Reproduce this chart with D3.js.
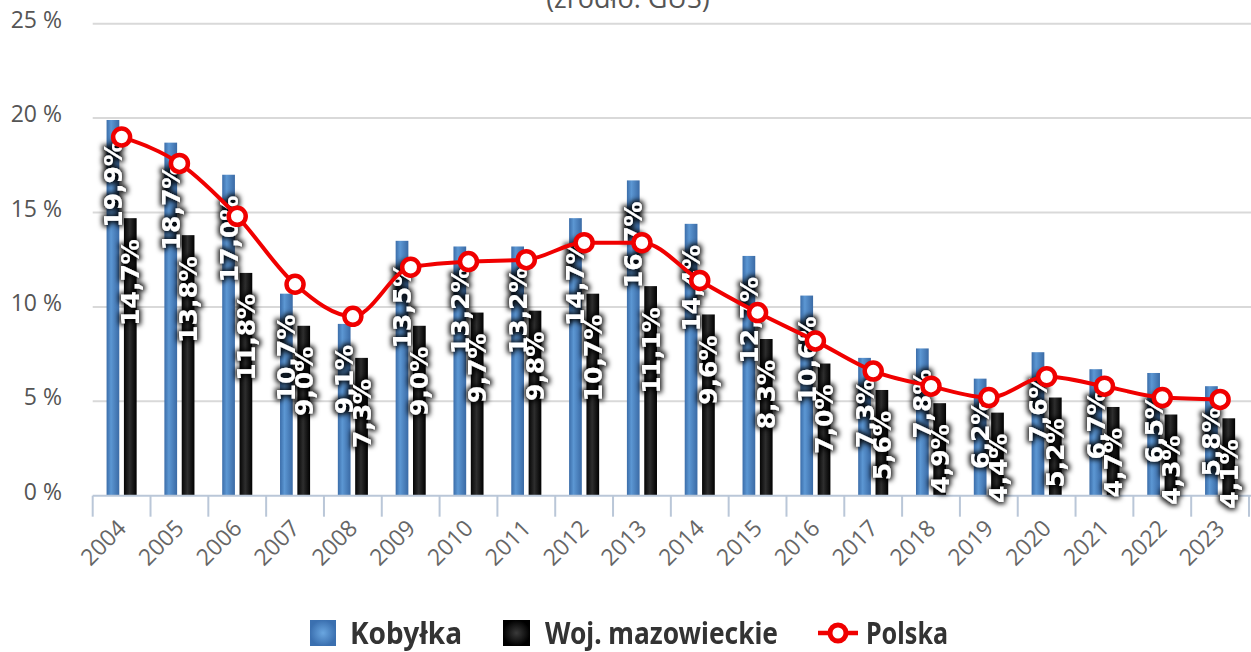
<!DOCTYPE html>
<html><head><meta charset="utf-8">
<script src="https://cdn.jsdelivr.net/npm/d3@7"></script>
<style>
html,body{margin:0;padding:0;background:#fff;}
svg{display:block;}
</style></head>
<body>
<svg id="chart" width="1251" height="652"></svg>
<script>
const years = ["2004","2005","2006","2007","2008","2009","2010","2011","2012","2013","2014","2015","2016","2017","2018","2019","2020","2021","2022","2023"];
const kobylka = [19.9,18.7,17.0,10.7,9.1,13.5,13.2,13.2,14.7,16.7,14.4,12.7,10.6,7.3,7.8,6.2,7.6,6.7,6.5,5.8];
const mazowieckie = [14.7,13.8,11.8,9.0,7.3,9.0,9.7,9.8,10.7,11.1,9.6,8.3,7.0,5.6,4.9,4.4,5.2,4.7,4.3,4.1];
const polska = [19.0,17.6,14.8,11.2,9.5,12.1,12.4,12.5,13.4,13.4,11.4,9.7,8.2,6.6,5.8,5.2,6.3,5.8,5.2,5.1];
const yTicks = [0,5,10,15,20,25];
const seriesNames = ["Kobyłka","Woj. mazowieckie","Polska"];
const subtitle = "(źródło: GUS)";

const svg = d3.select("#chart");
const defs = svg.append("defs");

const gBlue = defs.append("linearGradient").attr("id","gBlue").attr("x1","0").attr("x2","1").attr("y1","0").attr("y2","0");
gBlue.append("stop").attr("offset","0%").attr("stop-color","#3b6da9");
gBlue.append("stop").attr("offset","35%").attr("stop-color","#5c97d3");
gBlue.append("stop").attr("offset","100%").attr("stop-color","#3a6aa5");
const gBlack = defs.append("linearGradient").attr("id","gBlack").attr("x1","0").attr("x2","1").attr("y1","0").attr("y2","0");
gBlack.append("stop").attr("offset","0%").attr("stop-color","#050505");
gBlack.append("stop").attr("offset","45%").attr("stop-color","#2e2e2e");
gBlack.append("stop").attr("offset","100%").attr("stop-color","#000");
const rBlue = defs.append("radialGradient").attr("id","rBlue");
rBlue.append("stop").attr("offset","0%").attr("stop-color","#6aa6e0");
rBlue.append("stop").attr("offset","100%").attr("stop-color","#3b70b0");
const rBlack = defs.append("radialGradient").attr("id","rBlack");
rBlack.append("stop").attr("offset","0%").attr("stop-color","#3a3a3a");
rBlack.append("stop").attr("offset","100%").attr("stop-color","#000");

const glow = defs.append("filter").attr("id","glow").attr("x","-30%").attr("y","-30%").attr("width","160%").attr("height","160%");
glow.append("feMorphology").attr("in","SourceAlpha").attr("operator","dilate").attr("radius","1.8").attr("result","d");
glow.append("feGaussianBlur").attr("in","d").attr("stdDeviation","2.4").attr("result","b");
glow.append("feFlood").attr("flood-color","#000").attr("flood-opacity","0.9");
glow.append("feComposite").attr("in2","b").attr("operator","in").attr("result","s");
const fm = glow.append("feMerge");
fm.append("feMergeNode").attr("in","s");
fm.append("feMergeNode").attr("in","SourceGraphic");

const x = d3.scaleBand().domain(years).range([92.7, 1249]).padding(0);
const y = d3.scaleLinear().domain([0,25]).range([495.7, 23.7]);
const bw = x.bandwidth();
const barW = bw*0.22;
const gap = bw*0.08;

// subtitle (cut at the top edge, as in the reference)
svg.append("text").attr("x",628).attr("y",8).attr("text-anchor","middle")
  .attr("font-family","'Open Sans',sans-serif").attr("font-size",27).attr("fill","#555").text(subtitle);

// gridlines
svg.append("g").selectAll("line").data(yTicks.filter(d=>d>0)).join("line")
  .attr("x1",92.7).attr("x2",1251).attr("y1",d=>y(d)).attr("y2",d=>y(d))
  .attr("stroke","#d9d9d9").attr("stroke-width",2);

// y labels
svg.append("g").selectAll("text").data(yTicks).join("text")
  .attr("x",62).attr("y",d=>y(d)+4).attr("text-anchor","end")
  .attr("font-family","'Open Sans',sans-serif").attr("font-size",23).attr("fill","#555")
  .text(d=>d+" %");

// bars
const gB = svg.append("g");
gB.selectAll("rect.k").data(years).join("rect").attr("class","k")
  .attr("x",(d)=>x(d)+bw/2-gap/2-barW).attr("width",barW)
  .attr("y",(d,i)=>y(kobylka[i])).attr("height",(d,i)=>y(0)-y(kobylka[i]))
  .attr("fill","url(#gBlue)");
gB.selectAll("rect.m").data(years).join("rect").attr("class","m")
  .attr("x",(d)=>x(d)+bw/2+gap/2).attr("width",barW)
  .attr("y",(d,i)=>y(mazowieckie[i])).attr("height",(d,i)=>y(0)-y(mazowieckie[i]))
  .attr("fill","url(#gBlack)");

// x axis line and ticks
const axisColor = "#bac7d8";
svg.append("line").attr("x1",92.7).attr("x2",1251).attr("y1",y(0)).attr("y2",y(0))
  .attr("stroke",axisColor).attr("stroke-width",2);
const bounds = years.map(d=>x(d)).concat([x(years[years.length-1])+bw]);
svg.append("g").selectAll("line").data(bounds).join("line")
  .attr("x1",d=>d).attr("x2",d=>d).attr("y1",y(0)).attr("y2",y(0)+21)
  .attr("stroke",axisColor).attr("stroke-width",2);

// x labels
svg.append("g").selectAll("text").data(years).join("text")
  .attr("transform",d=>`translate(${x(d)+bw/2+6},${y(0)+34}) rotate(-45)`)
  .attr("text-anchor","end")
  .attr("font-family","'Open Sans',sans-serif").attr("font-size",23).attr("fill","#666")
  .text(d=>d);

// data labels
const fmt = v => v.toFixed(1).replace(".",",")+"%";
const gL = svg.append("g").attr("filter","url(#glow)");
gL.selectAll("text.k").data(years).join("text").attr("class","k")
  .attr("transform",(d,i)=>`translate(${x(d)+bw/2-gap/2-barW/2},${y(kobylka[i])+21}) rotate(-90)`)
  .attr("text-anchor","end").attr("dy","0.36em")
  .attr("font-family","'DejaVu Sans',sans-serif").attr("font-weight","bold").attr("font-size",25)
  .attr("fill","#fff").text((d,i)=>fmt(kobylka[i]));
gL.selectAll("text.m").data(years).join("text").attr("class","m")
  .attr("transform",(d,i)=>`translate(${x(d)+bw/2+gap/2+barW/2},${y(mazowieckie[i])+21}) rotate(-90)`)
  .attr("text-anchor","end").attr("dy","0.36em")
  .attr("font-family","'DejaVu Sans',sans-serif").attr("font-weight","bold").attr("font-size",25)
  .attr("fill","#fff").text((d,i)=>fmt(mazowieckie[i]));

// Polska line
const line = d3.line().x((d,i)=>x(years[i])+bw/2).y(d=>y(d)).curve(d3.curveMonotoneX);
svg.append("path").datum(polska).attr("d",line).attr("fill","none")
  .attr("stroke","#f00000").attr("stroke-width",4);
svg.append("g").selectAll("circle").data(polska).join("circle")
  .attr("cx",(d,i)=>x(years[i])+bw/2).attr("cy",d=>y(d)).attr("r",8.5)
  .attr("fill","#fff").attr("stroke","#f00000").attr("stroke-width",4.5);

// legend
const lg = svg.append("g");
const lf = "'Noto Sans','Open Sans',sans-serif";
lg.append("rect").attr("x",310).attr("y",620).attr("width",26).attr("height",26).attr("fill","url(#rBlue)");
lg.append("text").attr("x",350).attr("y",644).attr("font-family",lf).attr("font-weight","bold")
  .attr("font-size",30).attr("fill","#333").attr("textLength",112).attr("lengthAdjust","spacingAndGlyphs").text(seriesNames[0]);
lg.append("rect").attr("x",503).attr("y",620).attr("width",27).attr("height",26).attr("fill","url(#rBlack)");
lg.append("text").attr("x",545).attr("y",644).attr("font-family",lf).attr("font-weight","bold")
  .attr("font-size",30).attr("fill","#333").attr("textLength",233).attr("lengthAdjust","spacingAndGlyphs").text(seriesNames[1]);
lg.append("line").attr("x1",818).attr("x2",858).attr("y1",633).attr("y2",633).attr("stroke","#f00000").attr("stroke-width",4.5);
lg.append("circle").attr("cx",838).attr("cy",633).attr("r",8).attr("fill","#fff").attr("stroke","#f00000").attr("stroke-width",5);
lg.append("text").attr("x",866).attr("y",644).attr("font-family",lf).attr("font-weight","bold")
  .attr("font-size",30).attr("fill","#333").attr("textLength",82).attr("lengthAdjust","spacingAndGlyphs").text(seriesNames[2]);
</script>
</body></html>
